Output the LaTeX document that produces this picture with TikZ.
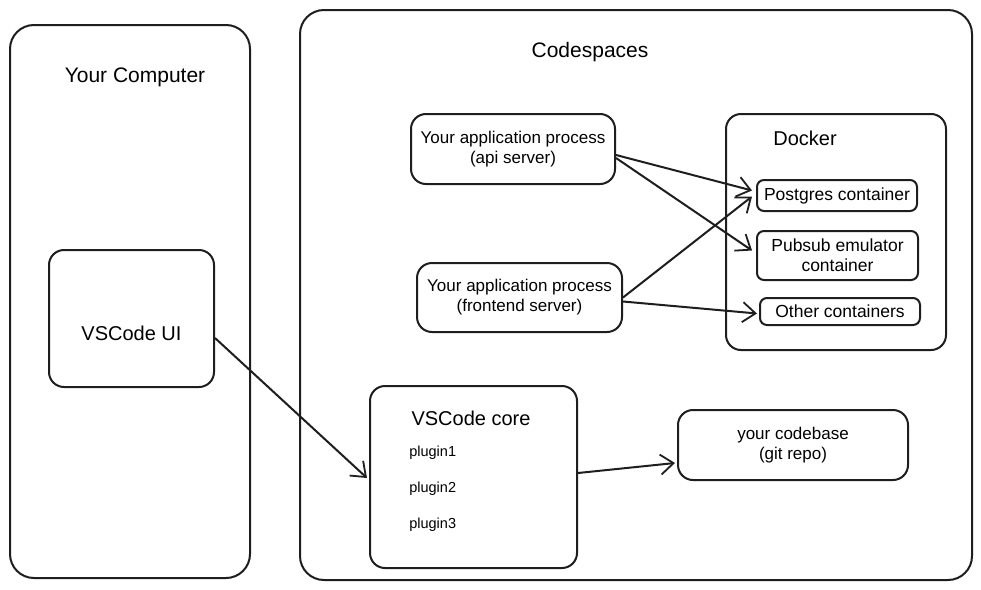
\documentclass[tikz,border=0pt]{standalone}
\usepackage{fontspec}
\setmainfont{Liberation Sans}
\usetikzlibrary{arrows.meta}
\begin{document}
\begin{tikzpicture}[x=1pt,y=-1pt,
  line width=2pt, draw={rgb,255:red,30;green,30;blue,30},
  big/.style={draw, rounded corners=24pt, inner sep=0pt},
  mid/.style={draw, rounded corners=15pt, inner sep=0pt, align=center, font=\fontsize{17}{20}\selectfont},
  small/.style={draw, rounded corners=7pt, inner sep=0pt, align=center, font=\fontsize{17.5}{20}\selectfont},
  title/.style={font=\fontsize{21}{24}\selectfont},
  lbl/.style={font=\fontsize{20}{23}\selectfont},
  plg/.style={font=\fontsize{14.5}{17}\selectfont, anchor=west},
  conn/.style={line width=2pt, -{Straight Barb[length=13pt,width=20pt,line width=1.8pt]}}
]
\useasboundingbox (0,0) rectangle (981,589);
% containers
\node[big, minimum width=240pt, minimum height=553pt] (comp) at (130,301.5) {};
\node[title] (complbl) at (135,77) {Your Computer};
\node[big, minimum width=672pt, minimum height=570pt] (cs) at (636,295) {};
\node[title] (cslbl) at (590,52) {Codespaces};
% your computer
\node[mid, minimum width=165pt, minimum height=137pt] (ui) at (131.5,318.5) {};
\node[lbl] (uilbl) at (131.5,333) {VSCode UI};
% app processes
\node[mid, minimum width=204pt, minimum height=70pt] (api) at (513,149) {Your application process\\(api server)};
\node[mid, minimum width=205pt, minimum height=69pt] (fe) at (519.5,297.5) {Your application process\\(frontend server)};
% docker
\node[mid, minimum width=220pt, minimum height=236pt] (dock) at (836,232) {};
\node[lbl] (docklbl) at (805,138) {Docker};
\node[small, minimum width=160pt, minimum height=31pt] (pg) at (837,195.5) {Postgres container};
\node[small, minimum width=161pt, minimum height=49pt] (pub) at (837.5,255.5) {Pubsub emulator\\container};
\node[small, minimum width=160pt, minimum height=27pt] (oth) at (840,311.5) {Other containers};
% vscode core
\node[mid, minimum width=207pt, minimum height=182pt] (core) at (473.5,477) {};
\node[lbl] (corelbl) at (471,418) {VSCode core};
\node[plg] (p1) at (405,453) {plugin1};
\node[plg] (p2) at (405,489) {plugin2};
\node[plg] (p3) at (405,525) {plugin3};
% codebase
\node[mid, minimum width=230pt, minimum height=70pt] (code) at (793,445) {your codebase\\(git repo)};
% connectors
\draw[conn] ([yshift=-6pt]api.east) -- ([xshift=-4pt,yshift=5pt]pg.west);
\draw[conn] ([yshift=-9pt]api.east) -- ([xshift=-4pt,yshift=5pt]pub.west);
\draw[conn] ([yshift=0pt]fe.east) -- ([xshift=-4pt,yshift=-1pt]pg.west);
\draw[conn] ([yshift=-4pt]fe.east) -- ([xshift=-2pt,yshift=-2pt]oth.west);
\draw[conn] ([yshift=-19.5pt]ui.east) -- ([xshift=-2pt,yshift=-1pt]core.west);
\draw[conn] ([yshift=4pt]core.east) -- ([xshift=-2pt,yshift=-18pt]code.west);
\end{tikzpicture}
\end{document}
